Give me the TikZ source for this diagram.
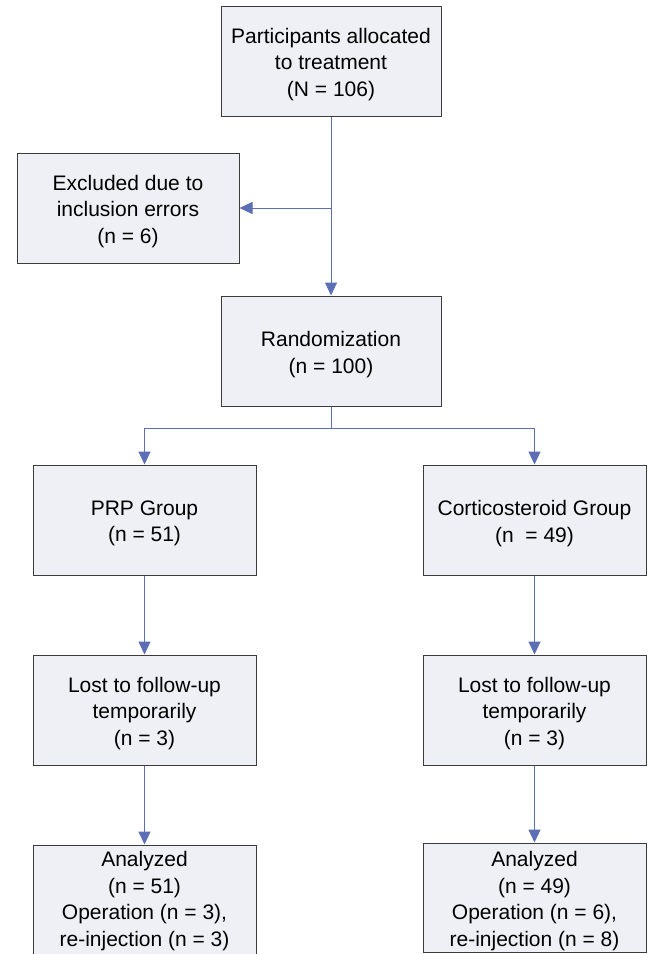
\documentclass[tikz,border=0pt]{standalone}
\usepackage{fontspec}
\setmainfont{Liberation Sans}
\usetikzlibrary{arrows.meta}
\definecolor{boxfill}{RGB}{239,240,246}
\definecolor{boxline}{RGB}{60,60,60}
\definecolor{conncol}{RGB}{92,110,182}
\begin{document}
\begin{tikzpicture}[x=1pt,y=-1pt,
  box/.style={draw=boxline,fill=boxfill,line width=1pt,minimum width=223pt,minimum height=110pt,
    inner sep=0pt},
  txt/.style={inner sep=0pt,align=center,font=\fontsize{21}{26.5}\selectfont},
  lbl/.style={label={[txt,yshift=-3.5pt]center:{#1}}},
  conn/.style={draw=conncol,line width=1pt,-{Triangle[length=13pt,width=12pt]}}]
\useasboundingbox (0,0) rectangle (650,954);
\node[box,minimum width=220pt,lbl={Participants allocated\\to treatment\\(N = 106)}] (top) at (331,61) {};
\node[box,minimum width=222pt,lbl={Excluded due to\\inclusion errors\\(n = 6)}] (excl) at (128,208) {};
\node[box,minimum width=220pt,lbl={Randomization\\(n = 100)}] (rand) at (331,351) {};
\node[box,lbl={PRP Group\\(n = 51)}] (prp) at (144.5,520) {};
\node[box,lbl={Corticosteroid Group\\(n\ \ = 49)}] (cort) at (534.5,520) {};
\node[box,lbl={Lost to follow-up\\temporarily\\(n = 3)}] (lostl) at (144.5,710) {};
\node[box,lbl={Lost to follow-up\\temporarily\\(n = 3)}] (lostr) at (534.5,710) {};
\node[box,minimum height=116pt,label={[txt,yshift=2pt]center:{Analyzed\\(n = 51)\\Operation (n = 3),\\re-injection (n = 3)}}] (anl) at (144.5,903) {};
\node[box,minimum height=109pt,lbl={Analyzed\\(n = 49)\\Operation (n = 6),\\re-injection (n = 8)}] (anr) at (534.5,897.5) {};
\draw[conn] (top.south) -- (rand.north);
\draw[conn] (top.south |- excl.east) -- (excl.east);
\draw[conn] (rand.south) -- ++(0,22) -| (prp.north);
\draw[conn] (rand.south) -- ++(0,22) -| (cort.north);
\draw[conn] (prp.south) -- (lostl.north);
\draw[conn] (cort.south) -- (lostr.north);
\draw[conn] (lostl.south) -- (anl.north);
\draw[conn] (lostr.south) -- (anr.north);
\end{tikzpicture}
\end{document}
